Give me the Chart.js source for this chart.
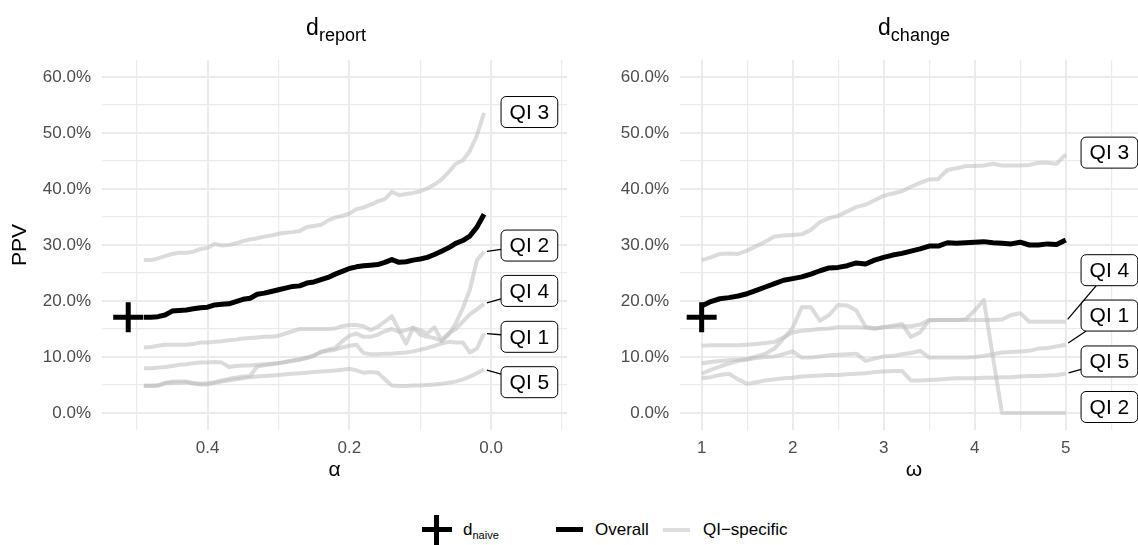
<!DOCTYPE html>
<html>
<head>
<meta charset="utf-8">
<script src="https://cdn.jsdelivr.net/npm/chart.js"></script>
<style>
  body { margin: 0; width: 1138px; height: 545px; overflow: hidden; background: #fff; position: relative;
         font-family: "Liberation Sans", Arial, sans-serif; }
  canvas { position: absolute; top: 0; }
  #leftChart { left: 0; }
  #rightChart { left: 570px; }
  .ptitle { position: absolute; top: 15px; font-size: 23px; line-height: 24px; transform: translateX(-50%); white-space: nowrap; color: #000; }
  .ptitle .sub { font-size: 18px; position: relative; top: 6px; }
  .lg { position: absolute; }
  .lg-text { position: absolute; top: 520px; font-size: 17px; line-height: 20px; color: #000; white-space: nowrap; }
  .lg-text .sub { font-size: 11px; position: relative; top: 4px; }
</style>
</head>
<body>
<canvas id="leftChart" width="570" height="490"></canvas>
<canvas id="rightChart" width="578" height="490"></canvas>

<div class="ptitle" style="left:336px">d<span class="sub">report</span></div>
<div class="ptitle" style="left:914px">d<span class="sub">change</span></div>

<!-- legend -->
<div class="lg" style="left:422px; top:527px; width:30px; height:5px; background:#000"></div>
<div class="lg" style="left:434px; top:515px; width:5px; height:30px; background:#000"></div>
<div class="lg-text" style="left:463px">d<span class="sub">naive</span></div>
<div class="lg" style="left:556px; top:527px; width:27px; height:5px; background:#000"></div>
<div class="lg-text" style="left:595px">Overall</div>
<div class="lg" style="left:663px; top:528px; width:27px; height:4px; background:#DCDCDC"></div>
<div class="lg-text" style="left:703px">QI−specific</div>

<script>
// alpha grid for d_report, omega grid for d_change
const alphaValues = [0.49, 0.48, 0.47, 0.46, 0.45, 0.44, 0.43, 0.42, 0.41, 0.40,
                     0.39, 0.38, 0.37, 0.36, 0.35, 0.34, 0.33, 0.32, 0.31, 0.30,
                     0.29, 0.28, 0.27, 0.26, 0.25, 0.24, 0.23, 0.22, 0.21, 0.20,
                     0.19, 0.18, 0.17, 0.16, 0.15, 0.14, 0.13, 0.12, 0.11, 0.10,
                     0.09, 0.08, 0.07, 0.06, 0.05, 0.04, 0.03, 0.02, 0.01];
const omegaValues = [1.0, 1.1, 1.2, 1.3, 1.4, 1.5, 1.6, 1.7, 1.8, 1.9,
                     2.0, 2.1, 2.2, 2.3, 2.4, 2.5, 2.6, 2.7, 2.8, 2.9,
                     3.0, 3.1, 3.2, 3.3, 3.4, 3.5, 3.6, 3.7, 3.8, 3.9,
                     4.0, 4.1, 4.2, 4.3, 4.4, 4.5, 4.6, 4.7, 4.8, 4.9, 5.0];

// PPV in percent
const reportOverall = [17.1, 17.1, 17.2, 17.5, 18.2, 18.3, 18.4, 18.6, 18.8, 18.9,
                       19.3, 19.4, 19.5, 19.9, 20.3, 20.5, 21.2, 21.4, 21.7, 22.0,
                       22.3, 22.6, 22.7, 23.2, 23.4, 23.8, 24.2, 24.8, 25.3, 25.8,
                       26.1, 26.3, 26.4, 26.5, 26.9, 27.4, 26.9, 27.0, 27.3, 27.5,
                       27.8, 28.3, 28.9, 29.5, 30.3, 30.8, 31.6, 33.2, 35.5];
const reportQI1 = [8.0, 8.0, 8.1, 8.2, 8.4, 8.6, 8.7, 8.9, 9.0, 9.0,
                   9.1, 9.0, 8.2, 8.4, 8.5, 8.5, 8.6, 8.7, 8.8, 8.9,
                   9.1, 9.3, 9.5, 9.8, 10.2, 10.9, 11.1, 11.3, 11.7, 12.0,
                   12.2, 10.7, 10.5, 10.5, 10.6, 10.6, 10.7, 10.8, 11.0, 11.3,
                   11.6, 12.0, 12.4, 12.7, 12.6, 12.6, 10.8, 11.5, 14.2];
const reportQI2 = [4.9, 4.9, 4.9, 5.4, 5.6, 5.6, 5.6, 5.3, 5.2, 5.3,
                   5.5, 5.8, 6.1, 6.3, 6.5, 6.6, 8.3, 8.5, 8.7, 8.9,
                   9.1, 9.4, 9.6, 9.9, 10.3, 10.9, 11.3, 11.6, 12.8, 13.8,
                   14.2, 13.6, 13.6, 14.0, 14.6, 15.0, 14.5, 14.8, 15.2, 14.0,
                   13.6, 13.4, 12.8, 14.0, 16.0, 18.7, 22.0, 27.3, 28.8];
const reportQI3 = [27.3, 27.3, 27.6, 28.0, 28.4, 28.6, 28.6, 28.8, 29.3, 29.5,
                   30.2, 29.9, 30.0, 30.3, 30.7, 31.0, 31.2, 31.5, 31.7, 32.0,
                   32.2, 32.3, 32.5, 33.2, 33.4, 33.6, 34.4, 34.9, 35.2, 35.6,
                   36.4, 36.7, 37.2, 37.8, 38.2, 39.5, 38.9, 39.1, 39.3, 39.6,
                   40.1, 40.8, 41.7, 43.0, 44.5, 45.1, 46.8, 49.6, 53.6];
const reportQI4 = [11.7, 11.8, 12.0, 12.2, 12.2, 12.2, 12.2, 12.3, 12.6, 12.6,
                   12.7, 12.8, 13.0, 13.1, 13.3, 13.4, 13.5, 13.6, 13.6, 13.8,
                   14.2, 14.6, 15.0, 15.0, 15.0, 15.0, 15.0, 15.1, 15.5, 15.7,
                   15.7, 15.5, 14.8, 15.4, 16.3, 17.3, 14.8, 12.4, 15.2, 14.8,
                   14.2, 15.3, 13.0, 14.2, 15.0, 16.3, 17.6, 18.5, 19.5];
const reportQI5 = [4.8, 4.8, 4.9, 5.3, 5.4, 5.4, 5.5, 5.3, 5.1, 5.1,
                   5.4, 5.6, 5.8, 6.0, 6.2, 6.4, 6.5, 6.6, 6.7, 6.8,
                   6.9, 7.0, 7.1, 7.2, 7.3, 7.4, 7.5, 7.6, 7.7, 7.9,
                   7.6, 7.2, 7.3, 7.2, 6.0, 4.9, 4.8, 4.8, 4.9, 4.9,
                   5.0, 5.1, 5.2, 5.4, 5.6, 6.0, 6.5, 7.1, 7.8];

const changeOverall = [19.1, 19.9, 20.4, 20.6, 20.9, 21.3, 21.9, 22.5, 23.1, 23.7,
                       24.0, 24.3, 24.8, 25.4, 25.9, 26.0, 26.3, 26.8, 26.6, 27.3,
                       27.8, 28.2, 28.5, 28.9, 29.3, 29.8, 29.8, 30.4, 30.3, 30.4,
                       30.5, 30.6, 30.4, 30.3, 30.2, 30.5, 30.0, 30.0, 30.2, 30.1, 30.9];
const changeQI1 = [8.9, 9.1, 9.3, 9.4, 9.5, 9.6, 9.8, 10.0, 10.1, 10.5,
                   11.0, 9.9, 9.9, 10.1, 10.3, 10.4, 10.5, 10.6, 9.3, 9.7,
                   10.1, 10.2, 10.5, 10.7, 11.1, 9.9, 9.9, 9.9, 9.9, 9.9,
                   10.0, 10.2, 10.5, 10.8, 10.9, 11.0, 11.1, 11.5, 11.6, 11.9, 12.2];
const changeQI2 = [7.0, 7.7, 8.3, 8.8, 9.3, 9.6, 10.1, 10.6, 11.5, 13.3,
                   15.2, 18.9, 18.9, 16.5, 17.5, 19.3, 19.2, 18.3, 15.4, 15.1,
                   15.3, 15.6, 15.9, 13.6, 14.4, 16.5, 16.6, 16.6, 16.6, 16.7,
                   18.3, 20.2, 10.0, 0.0, 0.0, 0.0, 0.0, 0.0, 0.0, 0.0, 0.0];
const changeQI3 = [27.3, 27.8, 28.4, 28.5, 28.4, 29.0, 29.8, 30.6, 31.5, 31.7,
                   31.8, 31.9, 32.7, 34.1, 34.8, 35.2, 36.0, 36.8, 37.2, 38.0,
                   38.8, 39.2, 39.6, 40.4, 41.1, 41.7, 41.8, 43.4, 43.7, 44.1,
                   44.1, 44.2, 44.5, 44.2, 44.2, 44.2, 44.3, 44.7, 44.7, 44.5, 46.2];
const changeQI4 = [12.0, 12.1, 12.1, 12.1, 12.1, 12.2, 12.3, 12.5, 12.7, 13.5,
                   14.4, 14.7, 14.8, 15.0, 15.1, 15.3, 15.3, 15.3, 15.2, 15.1,
                   15.3, 15.4, 15.5, 15.5, 15.8, 16.6, 16.6, 16.6, 16.6, 16.6,
                   16.6, 16.6, 16.6, 16.7, 17.5, 17.8, 16.3, 16.3, 16.3, 16.3, 16.3];
const changeQI5 = [6.2, 6.4, 6.8, 7.0, 6.0, 5.2, 5.5, 5.8, 6.0, 6.2,
                   6.3, 6.5, 6.6, 6.7, 6.8, 6.8, 6.9, 7.0, 7.1, 7.3,
                   7.4, 7.5, 7.5, 5.8, 5.8, 5.9, 6.0, 6.1, 6.2, 6.2,
                   6.2, 6.3, 6.3, 6.4, 6.4, 6.5, 6.6, 6.6, 6.7, 6.8, 7.0];

// naive detector: one point per panel
const naivePPV = 17.1;
const naiveAlpha = 0.512;
const naiveOmega = 1.0;

const qiNames = ['QI 1', 'QI 2', 'QI 3', 'QI 4', 'QI 5'];

// axis breaks and their labels ('' = minor gridline only)
const alphaTicks = [0.5, 0.4, 0.3, 0.2, 0.1, 0.0, -0.1];
const alphaTickLabels = ['', '0.4', '', '0.2', '', '0.0', ''];
const omegaTicks = [1, 1.5, 2, 2.5, 3, 3.5, 4, 4.5, 5, 5.5];
const omegaTickLabels = ['1', '', '2', '', '3', '', '4', '', '5', ''];
const ppvTicks = [0, 5, 10, 15, 20, 25, 30, 35, 40, 45, 50, 55, 60];
const ppvTickLabels = ['0.0%', '', '10.0%', '', '20.0%', '', '30.0%', '', '40.0%', '', '50.0%', '', '60.0%'];

// where the repelled QI labels sit (label centre), per panel
const reportLabelPos = { x: -0.054, y: [13.6, 29.9, 53.75, 21.8, 5.5], leader: [true, true, false, true, true] };
const changeLabelPos = { x: 5.48, y: [17.4, 1.07, 46.5, 25.5, 9.2], leader: [true, false, false, true, true] };

const FONT = '"Liberation Sans", Arial, sans-serif';
Chart.defaults.font.family = FONT;
const GREY_LINE = 'rgba(190,190,190,0.55)';
const GRID = '#EBEBEB';
const TEXT_GREY = '#4D4D4D';

function series(xs, ys, label, color, width, order) {
  return {
    label, order,
    data: xs.map((x, i) => ({ x, y: ys[i] })),
    borderColor: color, borderWidth: width,
    pointRadius: 0, tension: 0, fill: false,
    borderJoinStyle: 'round', borderCapStyle: 'butt'
  };
}

function naivePoint(x) {
  return {
    label: 'naive', order: 0, showLine: false,
    data: [{ x, y: naivePPV }],
    pointStyle: 'cross', pointRadius: 15, pointBorderWidth: 5,
    pointBorderColor: '#000', pointBackgroundColor: '#000'
  };
}

// boxed labels at the end of each QI line, with ggrepel-like leader segments
const qiLabels = {
  id: 'qiLabels',
  afterDatasetsDraw(chart, args, opts) {
    const { ctx, scales: { x, y } } = chart;
    ctx.save();
    ctx.font = '21px ' + FONT;
    qiNames.forEach((name, i) => {
      const idx = chart.data.datasets.findIndex(d => d.label === name);
      const meta = chart.getDatasetMeta(idx);
      const end = meta.data[meta.data.length - 1];
      const cx = x.getPixelForValue(opts.x);
      const cy = y.getPixelForValue(opts.y[i]);
      const w = ctx.measureText(name).width + 17;
      const h = 31;
      if (opts.leader[i]) {
        const dx = cx - end.x, dy = cy - end.y;
        const len = Math.hypot(dx, dy);
        const ux = dx / len, uy = dy / len;
        const s = Math.min((w / 2) / Math.abs(ux || 1e-9), (h / 2) / Math.abs(uy || 1e-9));
        ctx.beginPath();
        ctx.moveTo(end.x + ux * 3, end.y + uy * 3);
        ctx.lineTo(cx - ux * s, cy - uy * s);
        ctx.lineWidth = 1.3;
        ctx.strokeStyle = '#000';
        ctx.stroke();
      }
      ctx.beginPath();
      ctx.roundRect(cx - w / 2, cy - h / 2, w, h, 5);
      ctx.fillStyle = '#fff';
      ctx.fill();
      ctx.lineWidth = 1;
      ctx.strokeStyle = '#000';
      ctx.stroke();
      ctx.fillStyle = '#000';
      ctx.textAlign = 'center';
      ctx.textBaseline = 'middle';
      ctx.fillText(name, cx, cy + 1);
    });
    ctx.restore();
  }
};

function yAxis(width, showTitle) {
  return {
    type: 'linear', min: -3.04, max: 63.04,
    afterBuildTicks: a => { a.ticks = ppvTicks.map(v => ({ value: v })); },
    afterFit: a => { a.width = width; },
    ticks: { callback: (v, i) => ppvTickLabels[i], color: TEXT_GREY, font: { size: 17 }, padding: 11, autoSkip: false },
    grid: { color: GRID, lineWidth: c => ppvTickLabels[c.index] ? 2 : 1.2, drawTicks: false },
    border: { display: false },
    title: { display: showTitle, text: 'PPV', color: '#000', font: { size: 21 }, padding: { top: 8, bottom: 0 } }
  };
}

function xAxis(ticks, labels, min, max, reverse, title) {
  return {
    type: 'linear', min, max, reverse,
    afterBuildTicks: a => { a.ticks = ticks.map(v => ({ value: v })); },
    afterFit: a => { a.height = 60; },
    ticks: { callback: (v, i) => labels[i], color: TEXT_GREY, font: { size: 17 }, padding: 8, maxRotation: 0, autoSkip: false },
    grid: { color: GRID, lineWidth: c => labels[c.index] ? 2 : 1.2, drawTicks: false },
    border: { display: false },
    title: { display: true, text: title, color: '#000', font: { size: 21 }, padding: { top: 0, bottom: 7 } }
  };
}

function panel(canvasId, xs, overall, qis, naiveX, xScale, yWidth, showYTitle, labelPos) {
  const datasets = [naivePoint(naiveX), series(xs, overall, 'Overall', '#000', 5, 1)];
  qis.forEach((ys, i) => datasets.push(series(xs, ys, qiNames[i], GREY_LINE, 4, 2)));
  return new Chart(document.getElementById(canvasId), {
    type: 'line',
    data: { datasets },
    options: {
      responsive: false, animation: false, events: [],
      layout: { autoPadding: false, padding: { top: 60, left: 0, right: 0, bottom: 0 } },
      plugins: { legend: { display: false }, tooltip: { enabled: false }, qiLabels: labelPos },
      scales: { x: xScale, y: yAxis(yWidth, showYTitle) }
    },
    plugins: [qiLabels]
  });
}

panel('leftChart', alphaValues, reportOverall,
      [reportQI1, reportQI2, reportQI3, reportQI4, reportQI5], naiveAlpha,
      xAxis(alphaTicks, alphaTickLabels, -0.107, 0.549, true, 'α'), 102, true, reportLabelPos);

panel('rightChart', omegaValues, changeOverall,
      [changeQI1, changeQI2, changeQI3, changeQI4, changeQI5], naiveOmega,
      xAxis(omegaTicks, omegaTickLabels, 0.762, 5.904, false, 'ω'), 110, false, changeLabelPos);
</script>
</body>
</html>
